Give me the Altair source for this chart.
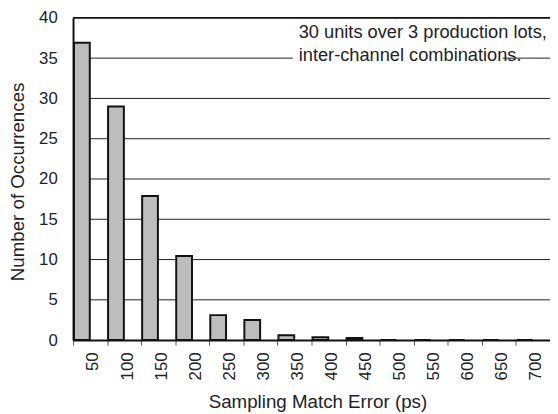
import altair as alt
import pandas as pd

errors = ["50", "100", "150", "200", "250", "300", "350", "400", "450",
          "500", "550", "600", "650", "700"]
counts = [36.9, 29.0, 17.9, 10.45, 3.1, 2.5, 0.6, 0.35, 0.25, 0, 0, 0, 0, 0]
y_ticks = [0, 5, 10, 15, 20, 25, 30, 35, 40]
grid_vals = [5, 10, 15, 20, 25, 30, 35]
top_val = [40]
note = ["30 units over 3 production lots,", "inter-channel combinations."]

FONT = "Liberation Sans"

df = pd.DataFrame({"error": errors, "count": counts})
grid_df = pd.DataFrame({"count": grid_vals})
top_df = pd.DataFrame({"count": top_val})
one = pd.DataFrame({"k": [0]})

yscale = alt.Scale(domain=[0, 40], nice=False)
y_axis = alt.Axis(
    values=y_ticks, title="Number of Occurrences", grid=False,
    ticks=False, labelPadding=16,
    domainWidth=2, domainColor="#111", labelFlush=False, labelOverlap=False,
    titleX=-50, titleY=166, titleAngle=270, titleBaseline="alphabetic",
)

x_enc = alt.X(
    "error:N", sort=errors,
    scale=alt.Scale(paddingInner=0, paddingOuter=0),
    axis=alt.Axis(
        title="Sampling Match Error (ps)",
        labelAngle=270, labelAlign="right", labelBaseline="middle",
        labelOffset=3,
        tickBand="extent", tickSize=5, tickColor="#555", tickWidth=1,
        labelPadding=7, domainColor="#111", domainWidth=2,
        titleX=248, titleY=68, titleBaseline="alphabetic",
    ),
)

grid = alt.Chart(grid_df).mark_rule(stroke="#222", strokeWidth=1).encode(
    y=alt.Y("count:Q", scale=yscale, axis=y_axis)
)

bars = alt.Chart(df).mark_bar(
    width=16, xOffset=-8.3, fill="#bdbdbd", stroke="#111", strokeWidth=2
).encode(x=x_enc, y=alt.Y("count:Q", scale=yscale, axis=y_axis))

box = alt.Chart(one).mark_rect(fill="white").encode(
    x=alt.value(223), x2=alt.value(436), y=alt.value(3), y2=alt.value(46)
)

label = alt.Chart(one).mark_text(
    text=note, align="left", baseline="alphabetic", lineHeight=24,
    fontSize=18.5, font=FONT, color="#222"
).encode(x=alt.value(229), y=alt.value(20))

top = alt.Chart(top_df).mark_rule(stroke="#111", strokeWidth=2).encode(
    y=alt.Y("count:Q", scale=yscale, axis=y_axis)
)

chart = alt.layer(grid, bars, box, label, top).properties(
    width=484, height=327,
    padding={"left": 66, "top": 7, "right": 0, "bottom": 74},
    autosize=alt.AutoSizeParams(type="none"),
).configure_view(stroke=None).configure_axis(
    labelFont=FONT, titleFont=FONT, labelColor="#222", titleColor="#222",
    labelFontSize=17, titleFontSize=19, titleFontWeight="normal",
)

chart.save("out.html", embed_options={"renderer": "svg", "actions": False})
